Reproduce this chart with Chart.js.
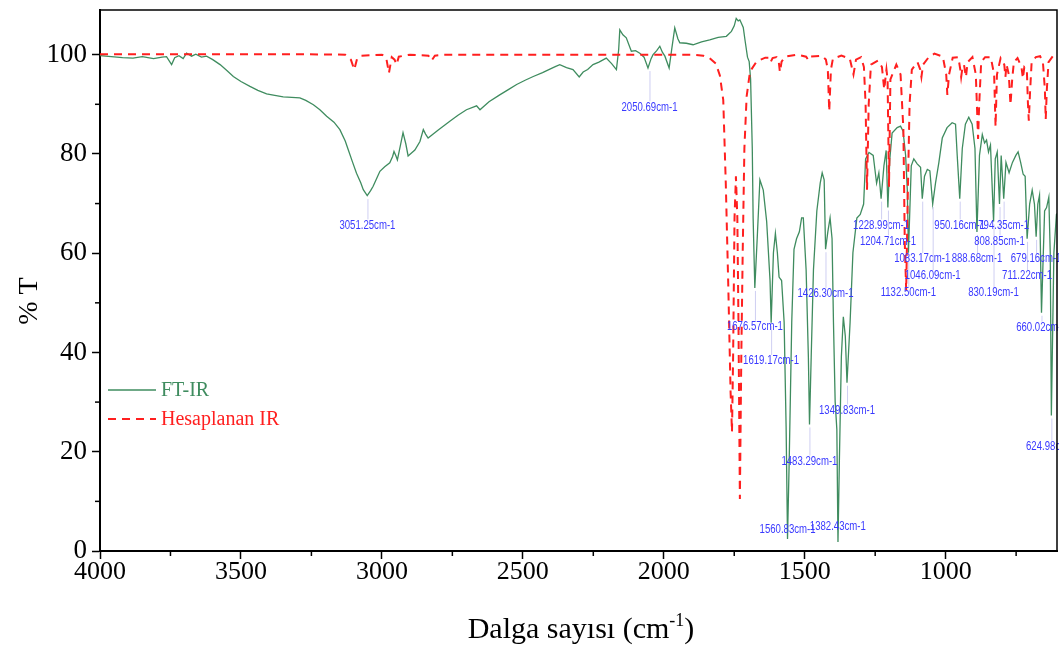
<!DOCTYPE html>
<html><head><meta charset="utf-8">
<script src="https://cdn.jsdelivr.net/npm/chart.js@4.4.1/dist/chart.umd.min.js"></script>
<style>html,body{margin:0;padding:0;background:#fff;}#wrap{width:1059px;height:653px;position:relative;}</style>
</head><body><div id="wrap"><canvas id="c" width="1059" height="653"></canvas></div>
<script>
// ---------------- DATA ----------------
const seriesNames = ['FT-IR', 'Hesaplanan IR'];

const ftirWavenumbers = [
4000,3960,3920,3883,3850,3810,3780,3764,3746,3735,3720,3705,3693,3675,3660,3640,3622,3600,3574,3550,3527,3500,3468,3440,3409,3380,3350,3320,3291,3270,3243,3220,3196,3170,3149,3130,3119,3105,3090,3075,3066,3052,3040,3031,3015,3007,2990,2972,2962,2957,2950,2945,2935,2925,2915,2907,2895,2883,2865,2853,2845,2836,2800,2759,2730,2700,2664,2652,2620,2582,2550,2522,2490,2463,2430,2404,2385,2369,2345,2322,2300,2286,2270,2251,2230,2204,2185,2168,2160,2156,2145,2133,2115,2100,2085,2070,2056,2045,2038,2025,2014,2005,1996,1981,1972,1961,1950,1943,1920,1896,1866,1837,1807,1778,1760,1750,1743,1736,1730,1725,1718,1712,1703,1697,1692,1686,1683,1677,1668,1659,1647,1635,1623,1619,1611,1604,1597,1591,1582,1573,1566,1561,1555,1546,1538,1529,1519,1511,1505,1495,1487,1483,1477,1469,1457,1445,1438,1431,1426,1418,1410,1403,1398,1392,1386,1382,1377,1370,1363,1356,1350,1339,1329,1315,1303,1291,1284,1272,1257,1245,1237,1229,1219,1211,1205,1198,1190,1172,1160,1151,1142,1136,1132,1122,1113,1101,1089,1083,1075,1065,1056,1046,1036,1024,1012,995,977,965,959,950,941,930,918,906,896,889,880,870,862,855,848,841,830,824,817,809,803,794,786,775,763,751,743,734,725,718,711,702,693,685,679,673,667,660,649,642,634,629,625,616,607,605];
const ftirTransmittance = [
99.8,99.6,99.4,99.3,99.6,99.2,99.5,99.6,98.0,99.4,99.8,99.2,100.3,99.7,100.1,99.5,99.7,99.0,98.0,96.8,95.6,94.6,93.6,92.8,92.1,91.8,91.5,91.4,91.3,90.8,89.9,88.9,87.6,86.4,84.9,82.6,80.8,78.5,76.1,74.2,72.8,71.6,72.6,73.5,75.5,76.5,77.4,78.2,79.5,80.5,79.6,78.8,81.5,84.3,82.0,79.6,80.2,80.8,82.5,84.9,84.0,83.2,84.8,86.6,87.8,88.9,89.7,88.9,90.5,91.9,93.0,94.0,94.9,95.6,96.4,97.1,97.6,98.0,97.4,97.0,95.5,96.5,97.0,98.0,98.5,99.3,98.2,97.0,101.0,105.0,104.0,103.4,100.7,100.8,100.3,99.5,97.3,99.2,100.0,100.8,101.7,100.5,99.7,97.3,101.0,105.4,103.2,102.4,102.3,102.0,102.6,103.0,103.5,103.7,104.7,105.8,107.3,106.8,107.0,106.4,105.5,103.0,99.5,98.6,95.1,81.1,67.1,53.0,63.6,74.8,72.7,66.4,54.5,46.0,60.1,64.0,60.1,55.2,54.5,46.1,25.1,2.4,18.2,46.1,60.8,62.9,64.3,67.1,67.1,56.6,39.1,25.5,39.1,56.6,68.5,74.1,76.2,74.8,60.8,64.3,67.1,62.9,46.1,30.1,24.5,1.8,18.2,39.1,47.2,43.3,33.9,46.1,60.1,67.1,67.8,69.9,79.0,80.3,79.7,74.1,76.2,71.0,77.6,80.7,69.2,79.0,84.2,85.3,85.6,84.6,79.7,72.7,60.1,77.6,79.0,78.0,77.3,71.0,75.5,76.9,76.6,69.9,74.1,78.3,83.2,85.3,86.3,86.0,79.7,71.0,81.1,86.0,87.4,86.0,81.1,64.3,79.7,83.9,82.2,82.8,80.4,81.8,66.4,79.0,80.4,69.9,79.7,71.0,78.3,76.2,78.3,79.7,80.4,78.3,75.9,75.5,62.9,69.9,72.7,69.9,63.3,69.9,71.7,48.0,68.5,69.2,71.3,60.1,27.3,60.1,67.8,68.0];

const calcWavenumbers = [
4000,3300,3130,3110,3098,3088,3075,3000,2985,2975,2965,2955,2948,2940,2900,2835,2824,2812,2780,1900,1860,1837,1815,1801,1789,1780,1771,1763,1758,1754,1749,1744,1739,1735,1730,1725,1720,1714,1706,1694,1671,1640,1628,1621,1614,1600,1592,1588,1582,1570,1528,1495,1487,1479,1440,1425,1418,1413,1407,1400,1370,1340,1327,1318,1300,1290,1284,1279,1273,1265,1240,1226,1218,1210,1206,1201,1196,1175,1160,1150,1145,1140,1135,1128,1120,1100,1090,1086,1080,1060,1040,1010,998,994,988,975,955,948,945,940,935,928,922,905,893,888,885,881,874,860,840,828,823,818,805,792,788,784,776,770,764,758,745,731,726,721,712,708,705,701,695,680,665,655,648,645,641,635,620,605];
const calcTransmittance = [
100.1,100.1,100.0,99.0,97.0,99.2,99.8,100.0,99.5,96.3,99.5,99.0,98.0,99.6,100.0,99.8,98.8,99.8,100.0,100.0,99.8,99.3,98.2,95.8,90.9,74.1,53.1,32.1,24.0,39.1,67.1,75.5,67.1,46.1,10.5,39.1,60.1,81.1,91.6,96.6,98.6,99.4,99.4,98.5,99.3,99.5,98.5,96.5,98.6,99.6,100.0,99.6,98.9,99.6,99.8,99.0,97.0,88.6,97.0,99.2,99.8,99.2,96.0,99.0,99.5,97.5,90.0,72.8,90.0,98.0,98.8,97.5,93.0,97.0,95.0,73.4,95.0,98.0,96.0,85.0,62.0,52.5,70.0,90.0,97.0,98.5,97.0,95.5,98.0,99.5,100.2,99.6,96.0,91.9,96.0,99.4,99.5,97.0,95.5,97.5,98.0,95.5,98.5,99.5,96.0,88.0,83.0,90.0,98.5,99.5,99.5,96.0,85.5,96.0,99.3,98.0,95.5,98.0,96.0,89.9,95.0,98.5,99.3,97.5,95.2,97.5,97.0,90.0,86.7,92.0,98.5,99.5,99.7,98.5,93.0,87.0,93.0,98.5,99.7,100.0];

// Peak annotations: wavenumber, %T at the band minimum, %T where the label sits
const peakWavenumbers = [3051.25,2050.69,1676.57,1619.17,1560.83,1483.29,1426.30,1382.43,1349.83,1228.99,1204.71,1132.50,1083.17,1046.09,950.16,888.68,830.19,808.85,794.35,711.22,679.16,660.02,624.98];
const peakMinT =        [71.5,  97.3,  53.0,  46.0,  2.4,   25.5,  60.8,  1.8,   33.9,  71.0,  69.2,  60.1,  71.0,  69.9,  71.0, 64.3, 66.4, 69.9, 71.0, 62.9, 63.3, 48.0, 27.3];
const peakLabelT =      [65.6,  89.4,  45.2,  38.3,  4.3,   18.0,  51.8,  4.8,   28.3,  65.6,  62.4,  52.0,  58.8,  55.4,  65.6, 58.8, 52.0, 62.4, 65.6, 55.4, 58.8, 45.0, 21.0];

const xTickValues = [4000,3500,3000,2500,2000,1500,1000];
const xMinorTickValues = [3750,3250,2750,2250,1750,1250,750];
const yTickValues = [0,20,40,60,80,100];
const yMinorTickValues = [10,30,50,70,90];
const xAxisTitle = ['Dalga sayısı (cm', '-1', ')'];
const yAxisTitle = '% T';

// ---------------- CHART ----------------
const GREEN = '#3f8c5f';
const RED = '#ff1f1f';
const BLUE = '#3a3aff';
const SERIF = '"Liberation Serif", "Times New Roman", serif';

const ftirPoints = ftirWavenumbers.map((w, i) => ({x: w, y: ftirTransmittance[i]}));
const calcPoints = calcWavenumbers.map((w, i) => ({x: w, y: calcTransmittance[i]}));

const decor = {
  id: 'decor',
  afterDatasetsDraw(chart) {
    const {ctx, scales: {x, y}} = chart;
    ctx.save();
    peakWavenumbers.forEach((w, i) => {
      const px = x.getPixelForValue(w);
      const pyMin = y.getPixelForValue(peakMinT[i]);
      const pyLab = y.getPixelForValue(peakLabelT[i]);
      if (pyLab - 6 > pyMin + 3) {
        ctx.strokeStyle = '#cfcff2';
        ctx.lineWidth = 1;
        ctx.beginPath();
        ctx.moveTo(px + 0.5, pyMin + 3);
        ctx.lineTo(px + 0.5, pyLab - 6);
        ctx.stroke();
      }
      ctx.save();
      ctx.translate(px, pyLab);
      ctx.scale(0.8, 1);
      ctx.font = '12px "Liberation Sans", Arial, sans-serif';
      ctx.fillStyle = BLUE;
      ctx.textAlign = 'center';
      ctx.textBaseline = 'middle';
      ctx.fillText(w.toFixed(2) + 'cm-1', 0, 0);
      ctx.restore();
    });
    ctx.restore();
  },
  afterDraw(chart) {
    const {ctx, chartArea: a, scales: {x, y}} = chart;
    ctx.save();
    ctx.strokeStyle = '#000';
    ctx.lineWidth = 1.5;
    ctx.beginPath();
    ctx.moveTo(a.left, a.top); ctx.lineTo(a.right, a.top); ctx.lineTo(a.right, a.bottom);
    ctx.stroke();
    xMinorTickValues.forEach(v => {
      const px = x.getPixelForValue(v);
      ctx.beginPath(); ctx.moveTo(px, a.bottom); ctx.lineTo(px, a.bottom + 5); ctx.stroke();
    });
    yMinorTickValues.forEach(v => {
      const py = y.getPixelForValue(v);
      ctx.beginPath(); ctx.moveTo(a.left, py); ctx.lineTo(a.left - 5, py); ctx.stroke();
    });
    // x title with superscript
    ctx.fillStyle = '#000';
    ctx.textBaseline = 'alphabetic';
    ctx.font = '30px ' + SERIF;
    const w1 = ctx.measureText(xAxisTitle[0]).width;
    const w3 = ctx.measureText(xAxisTitle[2]).width;
    ctx.font = '18px ' + SERIF;
    const w2 = ctx.measureText(xAxisTitle[1]).width;
    const total = w1 + w2 + w3;
    const sx = 581 - total / 2;
    const base = 638;
    ctx.font = '30px ' + SERIF;
    ctx.fillText(xAxisTitle[0], sx, base);
    ctx.font = '18px ' + SERIF;
    ctx.fillText(xAxisTitle[1], sx + w1, base - 12);
    ctx.font = '30px ' + SERIF;
    ctx.fillText(xAxisTitle[2], sx + w1 + w2, base);
    // y title
    ctx.save();
    ctx.translate(30, 301);
    ctx.rotate(-Math.PI / 2);
    ctx.font = '28px ' + SERIF;
    ctx.textAlign = 'center';
    ctx.textBaseline = 'middle';
    ctx.fillText(yAxisTitle, 0, 0);
    ctx.restore();
    // legend
    const ds = chart.data.datasets;
    const rows = [{y: 390, ds: ds[1]}, {y: 419, ds: ds[0]}];
    rows.forEach(r => {
      ctx.strokeStyle = r.ds.borderColor;
      ctx.lineWidth = r.ds.borderWidth;
      ctx.setLineDash(r.ds.borderDash || []);
      ctx.beginPath(); ctx.moveTo(108, r.y); ctx.lineTo(156, r.y); ctx.stroke();
      ctx.setLineDash([]);
      ctx.fillStyle = r.ds.borderColor;
      ctx.font = '20px ' + SERIF;
      ctx.textAlign = 'left';
      ctx.textBaseline = 'middle';
      ctx.fillText(r.ds.label, 161, r.y + 1);
    });
    ctx.restore();
  }
};

new Chart(document.getElementById('c'), {
  type: 'line',
  data: {
    datasets: [
      {label: seriesNames[1], data: calcPoints, borderColor: RED, borderWidth: 2, borderDash: [8, 6], pointRadius: 0, tension: 0, fill: false, order: 0},
      {label: seriesNames[0], data: ftirPoints, borderColor: GREEN, borderWidth: 1.3, pointRadius: 0, tension: 0, fill: false, order: 1}
    ]
  },
  options: {
    responsive: false,
    animation: false,
    devicePixelRatio: 1,
    layout: {padding: {top: 10, right: 2, left: 0, bottom: 0}},
    plugins: {legend: {display: false}, tooltip: {enabled: false}},
    scales: {
      x: {
        type: 'linear', reverse: true, min: 605, max: 4000,
        afterBuildTicks: s => { s.ticks = xTickValues.map(v => ({value: v})); },
        afterFit: s => { s.height = 102; s.paddingLeft = 0; s.paddingRight = 0; },
        grid: {display: true, drawOnChartArea: false, drawTicks: true, tickLength: 8, tickWidth: 1.5, tickColor: '#000'},
        border: {display: true, color: '#000', width: 2},
        ticks: {color: '#000', font: {family: SERIF, size: 26}, padding: -2, maxRotation: 0, autoSkip: false, callback: v => String(v)}
      },
      y: {
        type: 'linear', min: 0, max: 109,
        afterBuildTicks: s => { s.ticks = yTickValues.map(v => ({value: v})); },
        afterFit: s => { s.width = 100; s.paddingTop = 0; s.paddingBottom = 0; },
        grid: {display: true, drawOnChartArea: false, drawTicks: true, tickLength: 8, tickWidth: 1.5, tickColor: '#000'},
        border: {display: true, color: '#000', width: 2},
        ticks: {color: '#000', font: {family: SERIF, size: 27}, padding: 5, autoSkip: false, callback: v => String(v)}
      }
    }
  },
  plugins: [decor]
});
</script></body></html>
